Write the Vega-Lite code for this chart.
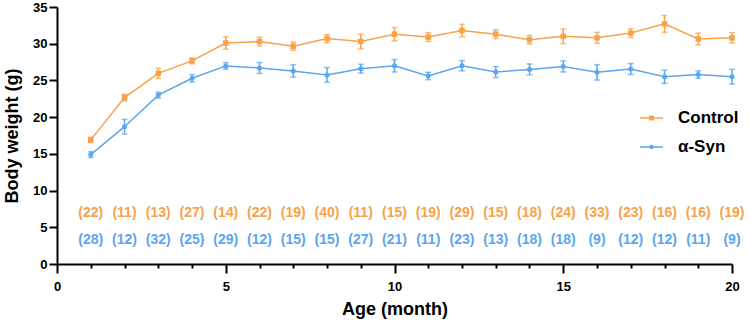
{
  "$schema": "https://vega.github.io/schema/vega-lite/v6.json",
  "width": 675,
  "height": 257,
  "autosize": {"type": "none"},
  "padding": {"left": 57, "top": 7, "right": 18, "bottom": 61},
  "background": "white",
  "config": {
    "font": "Liberation Sans",
    "view": {"stroke": null},
    "axis": {"grid": false},
    "axisY": {"tickSize": 8, "tickWidth": 2, "tickColor": "black",
      "domainWidth": 2, "domainColor": "black", "labelFontSize": 13, "labelFontWeight": "bold", "labelColor": "black",
      "labelPadding": 2, "labelFlush": false, "titleFontSize": 18, "titleFontWeight": "bold",
      "titleColor": "black", "titlePadding": 11}
  },
  "data": {
    "values": [
      {"month": 1, "group": "Control", "mean": 16.9, "sem": 0.35, "n": "(22)"},
      {"month": 2, "group": "Control", "mean": 22.66, "sem": 0.45, "n": "(11)"},
      {"month": 3, "group": "Control", "mean": 25.97, "sem": 0.7, "n": "(13)"},
      {"month": 4, "group": "Control", "mean": 27.66, "sem": 0.4, "n": "(27)"},
      {"month": 5, "group": "Control", "mean": 30.1, "sem": 0.85, "n": "(14)"},
      {"month": 6, "group": "Control", "mean": 30.3, "sem": 0.6, "n": "(22)"},
      {"month": 7, "group": "Control", "mean": 29.65, "sem": 0.55, "n": "(19)"},
      {"month": 8, "group": "Control", "mean": 30.7, "sem": 0.55, "n": "(40)"},
      {"month": 9, "group": "Control", "mean": 30.3, "sem": 1.0, "n": "(11)"},
      {"month": 10, "group": "Control", "mean": 31.3, "sem": 0.9, "n": "(15)"},
      {"month": 11, "group": "Control", "mean": 30.9, "sem": 0.6, "n": "(19)"},
      {"month": 12, "group": "Control", "mean": 31.8, "sem": 0.85, "n": "(29)"},
      {"month": 13, "group": "Control", "mean": 31.3, "sem": 0.6, "n": "(15)"},
      {"month": 14, "group": "Control", "mean": 30.55, "sem": 0.6, "n": "(18)"},
      {"month": 15, "group": "Control", "mean": 31.0, "sem": 1.0, "n": "(24)"},
      {"month": 16, "group": "Control", "mean": 30.8, "sem": 0.75, "n": "(33)"},
      {"month": 17, "group": "Control", "mean": 31.45, "sem": 0.6, "n": "(23)"},
      {"month": 18, "group": "Control", "mean": 32.7, "sem": 1.15, "n": "(16)"},
      {"month": 19, "group": "Control", "mean": 30.65, "sem": 0.8, "n": "(16)"},
      {"month": 20, "group": "Control", "mean": 30.8, "sem": 0.7, "n": "(19)"},
      {"month": 1, "group": "α-Syn", "mean": 14.9, "sem": 0.4, "n": "(28)"},
      {"month": 2, "group": "α-Syn", "mean": 18.7, "sem": 1.0, "n": "(12)"},
      {"month": 3, "group": "α-Syn", "mean": 23.0, "sem": 0.4, "n": "(32)"},
      {"month": 4, "group": "α-Syn", "mean": 25.3, "sem": 0.5, "n": "(25)"},
      {"month": 5, "group": "α-Syn", "mean": 26.98, "sem": 0.45, "n": "(29)"},
      {"month": 6, "group": "α-Syn", "mean": 26.7, "sem": 0.75, "n": "(12)"},
      {"month": 7, "group": "α-Syn", "mean": 26.3, "sem": 0.85, "n": "(15)"},
      {"month": 8, "group": "α-Syn", "mean": 25.75, "sem": 1.0, "n": "(15)"},
      {"month": 9, "group": "α-Syn", "mean": 26.6, "sem": 0.6, "n": "(27)"},
      {"month": 10, "group": "α-Syn", "mean": 27.0, "sem": 0.85, "n": "(21)"},
      {"month": 11, "group": "α-Syn", "mean": 25.6, "sem": 0.5, "n": "(11)"},
      {"month": 12, "group": "α-Syn", "mean": 27.0, "sem": 0.7, "n": "(23)"},
      {"month": 13, "group": "α-Syn", "mean": 26.15, "sem": 0.75, "n": "(13)"},
      {"month": 14, "group": "α-Syn", "mean": 26.5, "sem": 0.75, "n": "(18)"},
      {"month": 15, "group": "α-Syn", "mean": 26.9, "sem": 0.75, "n": "(18)"},
      {"month": 16, "group": "α-Syn", "mean": 26.1, "sem": 1.05, "n": "(9)"},
      {"month": 17, "group": "α-Syn", "mean": 26.55, "sem": 0.75, "n": "(12)"},
      {"month": 18, "group": "α-Syn", "mean": 25.5, "sem": 0.9, "n": "(12)"},
      {"month": 19, "group": "α-Syn", "mean": 25.8, "sem": 0.5, "n": "(11)"},
      {"month": 20, "group": "α-Syn", "mean": 25.5, "sem": 1.0, "n": "(9)"}
    ]
  },
  "resolve": {"axis": {"x": "independent"}},
  "layer": [
    {
      "mark": {"type": "line", "strokeWidth": 1.5},
      "encoding": {
        "x": {"field": "month", "type": "quantitative",
          "scale": {"domain": [0, 20], "nice": false, "zero": false},
          "axis": {"orient": "bottom", "values": [0, 5, 10, 15, 20], "tickSize": 9, "tickWidth": 2, "tickColor": "black",
            "domainWidth": 2, "domainColor": "black", "labelFontSize": 13, "labelFontWeight": "bold", "labelColor": "black",
            "labelPadding": 7, "labelFlush": false, "title": "Age (month)", "titleFontSize": 18, "titleFontWeight": "bold",
            "titleColor": "black", "titlePadding": 7}},
        "y": {"field": "mean", "type": "quantitative",
          "scale": {"domain": [0, 35], "nice": false},
          "axis": {"values": [0, 5, 10, 15, 20, 25, 30, 35], "title": "Body weight (g)"}},
        "color": {"field": "group", "type": "nominal", "legend": null,
          "scale": {"domain": ["Control", "α-Syn"], "range": ["#F7A24A", "#5AA6EF"]}}
      }
    },
    {
      "mark": {"type": "errorbar", "ticks": {"size": 6, "thickness": 1.5}, "thickness": 1.5},
      "encoding": {
        "x": {"field": "month", "type": "quantitative", "axis": null},
        "y": {"field": "mean", "type": "quantitative", "axis": {"values": [0, 5, 10, 15, 20, 25, 30, 35], "title": "Body weight (g)"}},
        "yError": {"field": "sem"},
        "color": {"field": "group", "type": "nominal", "legend": null}
      }
    },
    {
      "transform": [{"filter": "datum.group === 'Control'"}],
      "mark": {"type": "point", "shape": "square", "filled": true, "size": 30, "opacity": 1},
      "encoding": {
        "x": {"field": "month", "type": "quantitative", "axis": null},
        "y": {"field": "mean", "type": "quantitative", "axis": {"values": [0, 5, 10, 15, 20, 25, 30, 35], "title": "Body weight (g)"}},
        "color": {"field": "group", "type": "nominal", "legend": null}
      }
    },
    {
      "transform": [{"filter": "datum.group === 'α-Syn'"}],
      "mark": {"type": "point", "shape": "circle", "filled": true, "size": 25, "opacity": 1},
      "encoding": {
        "x": {"field": "month", "type": "quantitative",
          "axis": {"orient": "bottom", "values": [1, 2, 3, 4, 6, 7, 8, 9, 11, 12, 13, 14, 16, 17, 18, 19], "domain": false, "labels": false,
            "tickSize": 4, "tickWidth": 2, "tickColor": "black", "title": null, "grid": false}},
        "y": {"field": "mean", "type": "quantitative", "axis": {"values": [0, 5, 10, 15, 20, 25, 30, 35], "title": "Body weight (g)"}},
        "color": {"field": "group", "type": "nominal", "legend": null}
      }
    },
    {
      "transform": [{"filter": "datum.group === 'Control'"}],
      "mark": {"type": "text", "fontSize": 14, "fontWeight": "bold", "baseline": "middle", "align": "center"},
      "encoding": {
        "x": {"field": "month", "type": "quantitative", "axis": null},
        "y": {"datum": 6.95, "type": "quantitative", "axis": {"values": [0, 5, 10, 15, 20, 25, 30, 35], "title": "Body weight (g)"}},
        "text": {"field": "n"},
        "color": {"field": "group", "type": "nominal", "legend": null}
      }
    },
    {
      "transform": [{"filter": "datum.group === 'α-Syn'"}],
      "mark": {"type": "text", "fontSize": 14, "fontWeight": "bold", "baseline": "middle", "align": "center"},
      "encoding": {
        "x": {"field": "month", "type": "quantitative", "axis": null},
        "y": {"datum": 3.27, "type": "quantitative", "axis": {"values": [0, 5, 10, 15, 20, 25, 30, 35], "title": "Body weight (g)"}},
        "text": {"field": "n"},
        "color": {"field": "group", "type": "nominal", "legend": null}
      }
    },
    {
      "mark": {"type": "point", "filled": true, "opacity": 0},
      "encoding": {
        "x": {"field": "month", "type": "quantitative", "axis": null},
        "y": {"field": "mean", "type": "quantitative", "axis": {"values": [0, 5, 10, 15, 20, 25, 30, 35], "title": "Body weight (g)"}},
        "fill": {"field": "group", "type": "nominal",
          "scale": {"range": ["#F7A24A", "#5AA6EF"]},
          "legend": {"orient": "none", "legendX": 583, "legendY": 99.5, "title": null,
            "symbolSize": 529, "symbolStrokeWidth": 0, "symbolOpacity": 1, "labelFontSize": 17, "labelFontWeight": "bold",
            "labelColor": "black", "labelOffset": 15, "rowPadding": 9}},
        "shape": {"field": "group", "type": "nominal",
          "scale": {"range": ["M-1,-0.065H1V0.065H-1Z M-0.22,-0.22H0.22V0.22H-0.22Z",
                              "M-1,-0.065H1V0.065H-1Z M-0.2,0A0.2,0.2,0,1,1,0.2,0A0.2,0.2,0,1,1,-0.2,0Z"]},
          "legend": {"orient": "none", "legendX": 583, "legendY": 99.5, "title": null,
            "symbolSize": 529, "symbolStrokeWidth": 0, "symbolOpacity": 1, "labelFontSize": 17, "labelFontWeight": "bold",
            "labelColor": "black", "labelOffset": 15, "rowPadding": 9}}
      }
    }
  ]
}
